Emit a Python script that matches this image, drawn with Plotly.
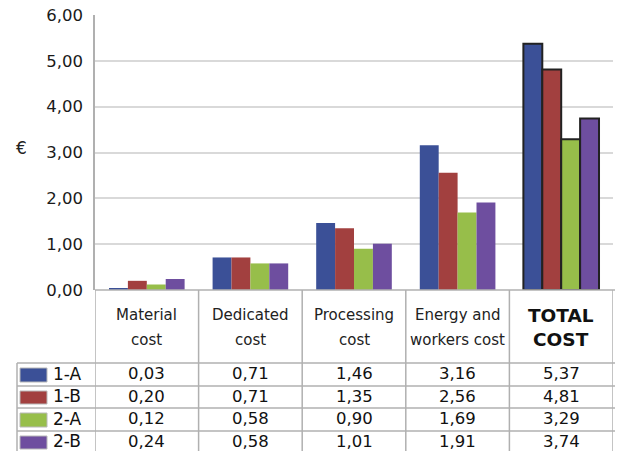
import plotly.graph_objects as go

categories = ["Material<br>cost", "Dedicated<br>cost", "Processing<br>cost",
              "Energy and<br>workers cost", "<b>TOTAL<br>COST</b>"]
series_names = ["1-A", "1-B", "2-A", "2-B"]
values = {
    "1-A": [0.03, 0.71, 1.46, 3.16, 5.37],
    "1-B": [0.20, 0.71, 1.35, 2.56, 4.81],
    "2-A": [0.12, 0.58, 0.90, 1.69, 3.29],
    "2-B": [0.24, 0.58, 1.01, 1.91, 3.74],
}
colors = {"1-A": "#3B5097", "1-B": "#A2403F", "2-A": "#97BE4A", "2-B": "#6E4E9F"}
y_ticks = [0, 1, 2, 3, 4, 5, 6]

W, H = 619, 451
L, R, T, B = 95, 6, 15, 161
pw = W - L - R
ph = H - T - B
FONT = "DejaVu Sans"
GRID = "#D9D9D9"
TBL = "#B0B0B0"

def py2paper(py):
    return (H - B - py) / ph

def px2paper(px):
    return (px - L) / pw

xs = list(range(len(categories)))
fig = go.Figure()
for s in series_names:
    lw = [0] * (len(categories) - 1) + [2]
    fig.add_trace(go.Bar(
        x=xs, y=values[s], name=s,
        marker=dict(color=colors[s], line=dict(color="#222222", width=lw)),
        showlegend=False,
    ))

shapes = []
annotations = []
line = dict(color=TBL, width=1.5)
row_y = [363, 386, 408, 431, 453]
for i in range(len(categories) + 1):
    shapes.append(dict(type="line", xref="x", yref="paper",
                       x0=i - 0.5, x1=i - 0.5, y0=py2paper(290), y1=py2paper(453),
                       line=line))
shapes.append(dict(type="line", xref="paper", yref="paper",
                   x0=px2paper(17), x1=px2paper(17), y0=py2paper(363), y1=py2paper(453),
                   line=line))
for yy in row_y:
    shapes.append(dict(type="line", xref="paper", yref="paper",
                       x0=px2paper(17), x1=1.0 + (2 / pw), y0=py2paper(yy), y1=py2paper(yy),
                       line=line))
for i, c in enumerate(categories):
    bold = "TOTAL" in c
    parts = c.replace("<b>", "").replace("</b>", "").split("<br>")
    for k, part in enumerate(parts):
        txt = f"<b>{part}</b>" if bold else part
        annotations.append(dict(
            xref="x", yref="paper", x=i, y=py2paper(315 + 24.5 * k), text=txt,
            showarrow=False,
            font=dict(family=FONT, size=18.5 if bold else 15,
                      color="#111111" if bold else "#222222"),
            xanchor="center", yanchor="middle", align="center",
        ))
for r, s in enumerate(series_names):
    top, bot = row_y[r], row_y[r + 1]
    cy = (top + bot) / 2 - 1
    shapes.append(dict(type="rect", xref="paper", yref="paper",
                       x0=px2paper(20), x1=px2paper(47),
                       y0=py2paper(top + 5), y1=py2paper(bot - 4),
                       fillcolor=colors[s], line=dict(color="#B8B8B8", width=1)))
    annotations.append(dict(
        xref="paper", yref="paper", x=px2paper(51), y=py2paper(cy), text=s,
        showarrow=False, xanchor="left", yanchor="middle",
        font=dict(family=FONT, size=17, color="#111111"),
    ))
    for i, v in enumerate(values[s]):
        annotations.append(dict(
            xref="x", yref="paper", x=i, y=py2paper(cy),
            text=f"{v:.2f}".replace(".", ","), showarrow=False,
            xanchor="center", yanchor="middle",
            font=dict(family=FONT, size=16.5, color="#111111"),
        ))
annotations.append(dict(xref="paper", yref="paper", x=px2paper(21), y=py2paper(148),
                        text="€", showarrow=False, xanchor="center", yanchor="middle",
                        font=dict(family=FONT, size=17, color="#222222")))

fig.update_layout(
    width=W, height=H,
    margin=dict(l=L, r=R, t=T, b=B, pad=0),
    paper_bgcolor="white", plot_bgcolor="white",
    barmode="group", bargap=0.27, bargroupgap=0,
    separators=",.",
    shapes=shapes, annotations=annotations,
    font=dict(family=FONT),
)
fig.update_xaxes(range=[-0.5, len(categories) - 0.5], showticklabels=False,
                 showgrid=False, zeroline=False, showline=False, ticks="")
fig.update_yaxes(range=[0, 6], tickvals=y_ticks, tickformat=".2f",
                 showgrid=True, gridcolor=GRID, gridwidth=1.5,
                 zeroline=False, showline=True, linecolor=TBL, linewidth=1.5,
                 ticks="", ticklabelstandoff=7,
                 tickfont=dict(family=FONT, size=16.5, color="#1A1A1A"))
fig.add_shape(type="line", xref="paper", yref="paper", x0=0, x1=1 + 2 / pw, y0=0, y1=0,
              line=line)

fig.write_html("out.html")
